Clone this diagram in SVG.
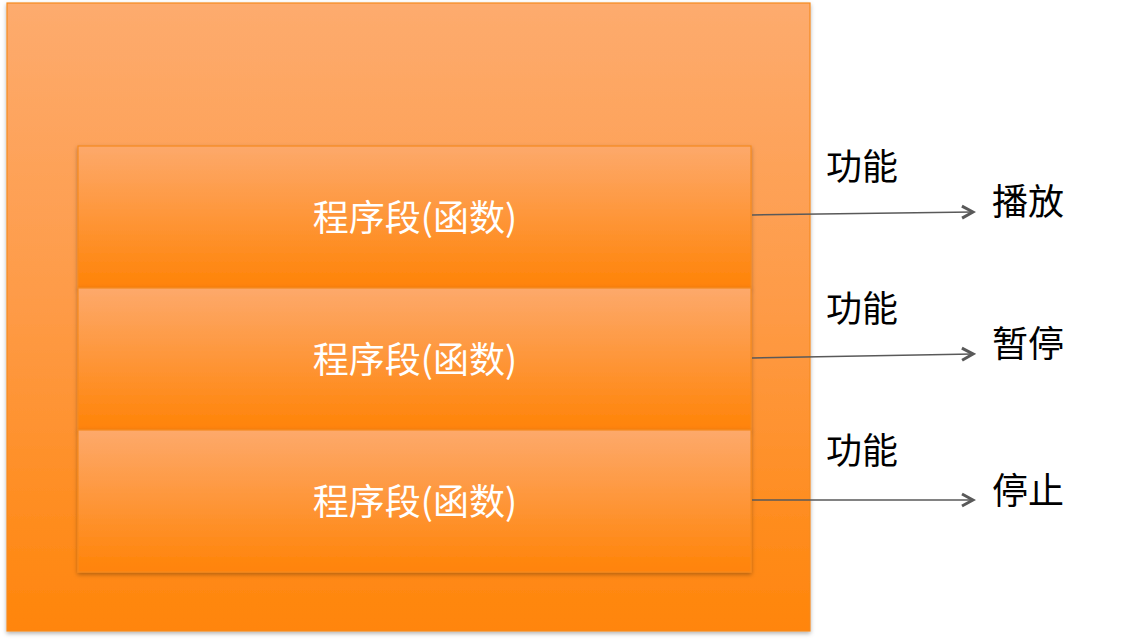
<svg xmlns="http://www.w3.org/2000/svg" width="1130" height="641" viewBox="0 0 1130 641">
<defs>
<linearGradient id="gOuter" x1="0" y1="0" x2="0" y2="1">
<stop offset="0" stop-color="#FDAB6E"/>
<stop offset="0.5" stop-color="#FE9A45"/>
<stop offset="1" stop-color="#FF850A"/>
</linearGradient>
<linearGradient id="gInner" x1="0" y1="0" x2="0" y2="1">
<stop offset="0" stop-color="#FDA96B"/>
<stop offset="1" stop-color="#FF8307"/>
</linearGradient>
<filter id="sh" x="-5%" y="-5%" width="110%" height="115%">
<feDropShadow dx="0" dy="2" stdDeviation="2" flood-color="#000" flood-opacity="0.3"/>
</filter>
<marker id="arr" markerWidth="16" markerHeight="16" refX="13" refY="8" orient="auto" markerUnits="userSpaceOnUse">
<path d="M2,2 L13,8 L2,14" fill="none" stroke="#595959" stroke-width="3"/>
</marker>
</defs>
<style>
.box{stroke:#F58A1F;stroke-width:1.2}
.t{font-family:"Noto Sans CJK SC","Liberation Sans",sans-serif;font-size:36px}
.w{fill:#FFFFFF}
.k{fill:#000000}
.c{stroke:#595959;stroke-width:1.5;fill:none}
</style>
<g id="outer">
<rect x="7" y="3" width="803" height="628" fill="url(#gOuter)" class="box" filter="url(#sh)"/>
</g>
<g id="seg1">
<rect x="78" y="146" width="673" height="142" fill="url(#gInner)" class="box" filter="url(#sh)"/>
<text x="415" y="231" text-anchor="middle" class="t w">程序段(函数)</text>
</g>
<g id="seg2">
<rect x="78" y="288" width="673" height="142" fill="url(#gInner)" class="box" filter="url(#sh)"/>
<text x="415" y="373" text-anchor="middle" class="t w">程序段(函数)</text>
</g>
<g id="seg3">
<rect x="78" y="430" width="673" height="142" fill="url(#gInner)" class="box" filter="url(#sh)"/>
<text x="415" y="515" text-anchor="middle" class="t w">程序段(函数)</text>
</g>
<g id="connectors">
<line x1="752" y1="215" x2="973" y2="212" class="c" marker-end="url(#arr)"/>
<line x1="752" y1="358" x2="973" y2="354" class="c" marker-end="url(#arr)"/>
<line x1="752" y1="500" x2="973" y2="500" class="c" marker-end="url(#arr)"/>
</g>
<g id="labels">
<text x="826" y="180" class="t k">功能</text>
<text x="992" y="215" class="t k">播放</text>
<text x="826" y="322" class="t k">功能</text>
<text x="992" y="357" class="t k">暂停</text>
<text x="826" y="464" class="t k">功能</text>
<text x="992" y="504" class="t k">停止</text>
</g>
</svg>
